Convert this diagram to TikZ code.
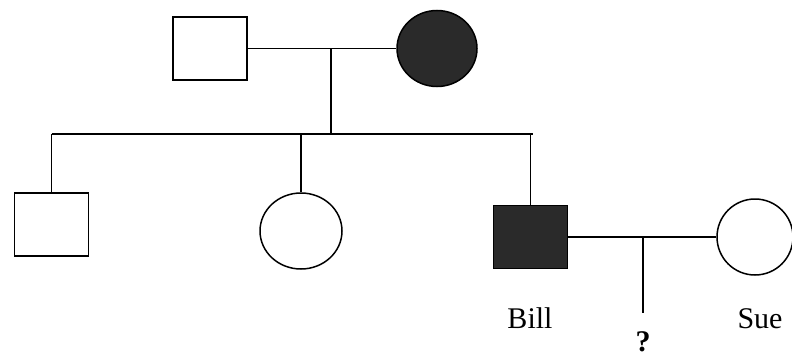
\documentclass[tikz,border=0pt]{standalone}
\usepackage{fontspec}
\setmainfont{Liberation Serif}
\usetikzlibrary{shapes.geometric,positioning}
\definecolor{affect}{HTML}{2A2A2A}

\begin{document}
\begin{tikzpicture}[x=1pt,y=-1pt,line width=1.5pt,
  male/.style={draw,rectangle,minimum width=74pt,minimum height=63pt,inner sep=0pt},
  female/.style={draw,ellipse,minimum width=80pt,minimum height=76pt,inner sep=0pt},
  affected/.style={fill=affect},
  nametag/.style={font=\fontsize{30}{36}\selectfont,inner sep=0pt,anchor=base}]
  \useasboundingbox (0,0) rectangle (792,356);
  \node[male] (dad) at (210,48.5) {};
  \node[female,affected] (mom) at (437,48.5) {};
  \node[male] (son) at (51.5,224.5) {};
  \node[female,minimum width=82pt] (daughter) at (301,231) {};
  \node[male,affected] (bill) at (530.5,237) {};
  \node[female,minimum width=76pt] (sue) at (755,237) {};
  \node[nametag] (billname) at (530,328) {Bill};
  \node[nametag] (suename) at (760,328) {Sue};
  \node[nametag,font=\fontsize{30}{36}\selectfont\bfseries] (q) at (643,351) {?};
  \coordinate (p1) at (331,48.5);
  \coordinate (sl) at (51.5,134);
  \coordinate (sr) at (533,134);
  \coordinate (p2) at (643,237);
  \coordinate (kid) at (643,313);
  \path[draw]
    (dad) edge (mom)
    (p1) edge (p1 |- sl)
    (sl) edge (sr)
    (sl) edge (son)
    (daughter.north |- sl) edge (daughter)
    (bill.north |- sl) edge (bill)
    (bill) edge (sue)
    (p2) edge (kid);
\end{tikzpicture}
\end{document}
